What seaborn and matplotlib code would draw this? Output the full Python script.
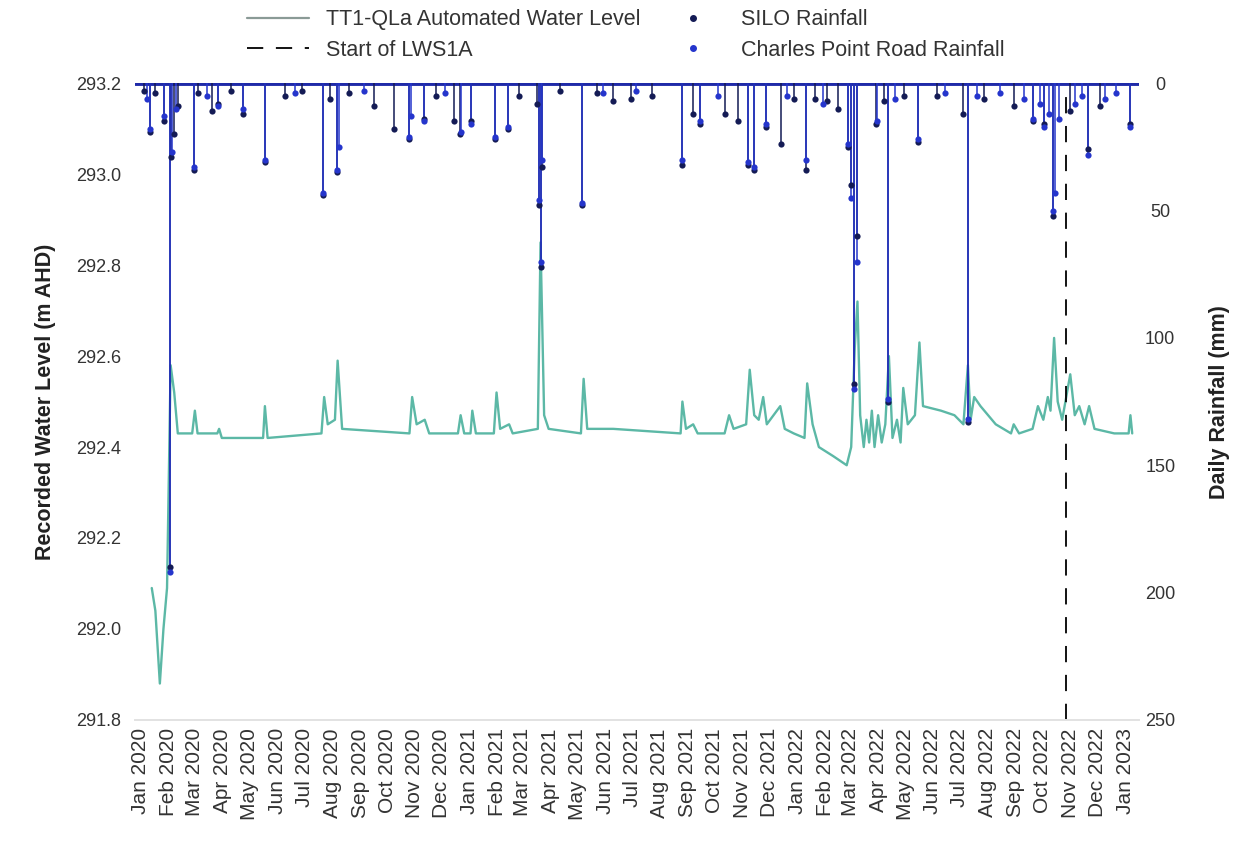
import matplotlib
matplotlib.use("Agg")
import matplotlib.pyplot as plt
import matplotlib.dates as mdates
from matplotlib.lines import Line2D
import seaborn as sns
import pandas as pd

sns.set_theme(style="white")
plt.rcParams['font.family'] = ['Liberation Sans', 'DejaVu Sans']

# ---------------- data ----------------
wl_dates = ["2020-01-13", "2020-01-17", "2020-01-22", "2020-01-26", "2020-01-30", "2020-02-03",
            "2020-02-07", "2020-02-11", "2020-02-27", "2020-03-01", "2020-03-04", "2020-03-26",
            "2020-03-28", "2020-03-31", "2020-05-16", "2020-05-18", "2020-05-21", "2020-07-20",
            "2020-07-23", "2020-07-27", "2020-08-04", "2020-08-07", "2020-08-12", "2020-10-26",
            "2020-10-29", "2020-11-03", "2020-11-12", "2020-11-17", "2020-12-19", "2020-12-22",
            "2020-12-26", "2021-01-02", "2021-01-04", "2021-01-08", "2021-01-28", "2021-01-31",
            "2021-02-04", "2021-02-14", "2021-02-18", "2021-03-18", "2021-03-21", "2021-03-25",
            "2021-03-30", "2021-05-05", "2021-05-08", "2021-05-12", "2021-06-10", "2021-08-24",
            "2021-08-26", "2021-08-30", "2021-09-07", "2021-09-12", "2021-10-12", "2021-10-17",
            "2021-10-22", "2021-11-05", "2021-11-09", "2021-11-14", "2021-11-19", "2021-11-24",
            "2021-11-28", "2021-12-13", "2021-12-18", "2021-12-28", "2022-01-09", "2022-01-12",
            "2022-01-18", "2022-01-25", "2022-02-10", "2022-02-25", "2022-03-02", "2022-03-06",
            "2022-03-09", "2022-03-12", "2022-03-16", "2022-03-19", "2022-03-22", "2022-03-25",
            "2022-03-28", "2022-04-01", "2022-04-05", "2022-04-09", "2022-04-13", "2022-04-17",
            "2022-04-22", "2022-04-26", "2022-04-29", "2022-05-04", "2022-05-12", "2022-05-17",
            "2022-05-21", "2022-06-10", "2022-06-25", "2022-07-05", "2022-07-10", "2022-07-13",
            "2022-07-17", "2022-07-24", "2022-08-10", "2022-08-27", "2022-08-30", "2022-09-05",
            "2022-09-20", "2022-09-26", "2022-10-02", "2022-10-07", "2022-10-10", "2022-10-14",
            "2022-10-18", "2022-10-23", "2022-11-01", "2022-11-06", "2022-11-11", "2022-11-17",
            "2022-11-22", "2022-11-28", "2022-12-20", "2023-01-05", "2023-01-07", "2023-01-09"]
wl_levels = [292.09, 292.04, 291.88, 292.00, 292.09, 292.58,
             292.52, 292.43, 292.43, 292.48, 292.43, 292.43,
             292.44, 292.42, 292.42, 292.49, 292.42, 292.43,
             292.51, 292.45, 292.46, 292.59, 292.44, 292.43,
             292.51, 292.45, 292.46, 292.43, 292.43, 292.47,
             292.43, 292.43, 292.48, 292.43, 292.43, 292.52,
             292.44, 292.45, 292.43, 292.44, 292.85, 292.47,
             292.44, 292.43, 292.55, 292.44, 292.44, 292.43,
             292.50, 292.44, 292.45, 292.43, 292.43, 292.47,
             292.44, 292.45, 292.57, 292.47, 292.46, 292.51,
             292.45, 292.49, 292.44, 292.43, 292.42, 292.54,
             292.45, 292.40, 292.38, 292.36, 292.40, 292.62,
             292.72, 292.47, 292.40, 292.46, 292.41, 292.48,
             292.40, 292.47, 292.41, 292.45, 292.60, 292.42,
             292.46, 292.41, 292.53, 292.45, 292.47, 292.63,
             292.49, 292.48, 292.47, 292.45, 292.58, 292.46,
             292.51, 292.49, 292.45, 292.43, 292.45, 292.43,
             292.44, 292.49, 292.46, 292.51, 292.48, 292.64,
             292.50, 292.46, 292.56, 292.47, 292.49, 292.45,
             292.49, 292.44, 292.43, 292.43, 292.47, 292.43]

silo_dates = ["2020-01-04", "2020-01-11", "2020-01-17", "2020-01-27", "2020-02-02", "2020-02-03",
              "2020-02-07", "2020-02-11", "2020-02-29", "2020-03-05", "2020-03-20", "2020-03-27",
              "2020-04-10", "2020-04-24", "2020-05-18", "2020-06-09", "2020-06-28", "2020-07-22",
              "2020-07-29", "2020-08-06", "2020-08-20", "2020-09-17", "2020-10-09", "2020-10-25",
              "2020-11-11", "2020-11-25", "2020-12-15", "2020-12-21", "2021-01-03", "2021-01-29",
              "2021-02-13", "2021-02-25", "2021-03-17", "2021-03-19", "2021-03-21", "2021-03-23",
              "2021-04-12", "2021-05-06", "2021-05-23", "2021-06-10", "2021-06-30", "2021-07-23",
              "2021-08-26", "2021-09-07", "2021-09-15", "2021-10-13", "2021-10-27", "2021-11-07",
              "2021-11-14", "2021-11-27", "2021-12-14", "2021-12-28", "2022-01-11", "2022-01-21",
              "2022-02-03", "2022-02-15", "2022-02-26", "2022-03-02", "2022-03-05", "2022-03-08",
              "2022-03-30", "2022-04-07", "2022-04-12", "2022-04-30", "2022-05-15", "2022-06-06",
              "2022-07-05", "2022-07-10", "2022-07-28", "2022-08-30", "2022-09-21", "2022-10-03",
              "2022-10-13", "2022-11-01", "2022-11-21", "2022-12-04", "2023-01-07"]
silo_mm = [3, 19, 4, 15, 190, 29,
           20, 9, 34, 4, 11, 8,
           3, 12, 31, 5, 3, 44,
           6, 35, 4, 9, 18, 22,
           14, 5, 15, 20, 15, 22,
           18, 5, 8, 48, 72, 33,
           3, 48, 4, 7, 6, 5,
           32, 12, 16, 12, 15, 32,
           34, 17, 24, 6, 34, 6,
           7, 10, 25, 40, 118, 60,
           16, 7, 125, 5, 23, 5,
           12, 133, 6, 9, 15, 16,
           52, 11, 26, 9, 16]

cpr_dates = ["2020-01-08", "2020-01-11", "2020-01-27", "2020-02-02", "2020-02-05", "2020-02-09",
             "2020-02-29", "2020-03-14", "2020-03-27", "2020-04-24", "2020-05-18", "2020-06-20",
             "2020-07-22", "2020-08-06", "2020-08-09", "2020-09-05", "2020-10-25", "2020-10-28",
             "2020-11-11", "2020-12-05", "2020-12-22", "2021-01-03", "2021-01-29", "2021-02-13",
             "2021-03-19", "2021-03-21", "2021-03-23", "2021-05-06", "2021-05-30", "2021-07-05",
             "2021-08-26", "2021-09-15", "2021-10-05", "2021-11-07", "2021-11-14", "2021-11-27",
             "2021-12-20", "2022-01-11", "2022-01-30", "2022-02-26", "2022-03-02", "2022-03-05",
             "2022-03-08", "2022-03-31", "2022-04-12", "2022-04-20", "2022-05-15", "2022-06-15",
             "2022-07-10", "2022-07-20", "2022-08-15", "2022-09-10", "2022-09-21", "2022-09-28",
             "2022-10-03", "2022-10-08", "2022-10-13", "2022-10-15", "2022-10-20", "2022-11-06",
             "2022-11-14", "2022-11-21", "2022-12-10", "2022-12-22", "2023-01-07"]
cpr_mm = [6, 18, 13, 192, 27, 10,
          33, 5, 9, 10, 30, 4,
          43, 34, 25, 3, 21, 13,
          15, 4, 19, 16, 21, 17,
          46, 70, 30, 47, 4, 3,
          30, 15, 5, 31, 33, 16,
          5, 30, 8, 24, 45, 120,
          70, 15, 124, 6, 22, 4,
          132, 5, 4, 6, 14, 8,
          17, 12, 50, 43, 14, 8,
          5, 28, 6, 4, 17]

lws1a_start = "2022-10-27"

# ---------------- figure ----------------
wl_color = "#5cb8a6"
silo_color = "#141b55"
cpr_color = "#2535cc"
text_color = "#333333"

fig = plt.figure(figsize=(12.59, 8.41), dpi=100)
ax = fig.add_axes([0.107, 0.144, 0.798, 0.757])

wl = pd.DataFrame({"date": pd.to_datetime(wl_dates), "level": wl_levels})
silo = pd.DataFrame({"date": pd.to_datetime(silo_dates), "mm": silo_mm})
cpr = pd.DataFrame({"date": pd.to_datetime(cpr_dates), "mm": cpr_mm})

sns.lineplot(data=wl, x="date", y="level", ax=ax, color=wl_color, lw=1.7)
ax.axvline(pd.Timestamp(lws1a_start), color="black", lw=1.3, dashes=(9, 7))

ax.set_ylim(291.8, 293.2)
ax.set_yticks([291.8, 292.0, 292.2, 292.4, 292.6, 292.8, 293.0, 293.2])
ax.set_yticklabels([f"{v:.1f}" for v in ax.get_yticks()])
ax.set_xlim(pd.Timestamp("2019-12-25"), pd.Timestamp("2023-01-17"))
ax.xaxis.set_major_locator(mdates.MonthLocator())
ax.xaxis.set_major_formatter(mdates.DateFormatter("%b %Y"))
ax.tick_params(axis="x", rotation=90, labelsize=15, length=0, pad=6, colors=text_color)
ax.tick_params(axis="y", labelsize=13, length=0, pad=10, colors=text_color)
ax.set_xlabel("")
ax.set_ylabel("Recorded Water Level (m AHD)", fontsize=15.5, fontweight="bold",
              labelpad=14, color="#222222")

ax2 = ax.twinx()
ax2.axhline(0, color="#1f2aa8", lw=3.5, zorder=1)
ax2.vlines(silo["date"], 0, silo["mm"], color=silo_color, lw=1.1, zorder=2)
ax2.vlines(cpr["date"], 0, cpr["mm"], color=cpr_color, lw=1.1, zorder=2)
sns.scatterplot(data=silo, x="date", y="mm", ax=ax2, color=silo_color, s=20, linewidth=0, zorder=3)
sns.scatterplot(data=cpr, x="date", y="mm", ax=ax2, color=cpr_color, s=20, linewidth=0, zorder=3)
ax2.set_ylim(250, 0)
ax2.set_yticks([0, 50, 100, 150, 200, 250])
ax2.tick_params(axis="y", labelsize=13, length=0, pad=15, colors=text_color)
for lbl in ax2.get_yticklabels():
    lbl.set_horizontalalignment("center")
ax2.set_ylabel("Daily Rainfall (mm)", fontsize=15.5, fontweight="bold", labelpad=24,
               color="#222222")
ax2.set_xlim(ax.get_xlim())

for a in (ax, ax2):
    for s in ("top", "left", "right"):
        a.spines[s].set_visible(False)
    a.spines["bottom"].set_color("#e2e2e2")
    a.grid(False)

handles = [
    Line2D([], [], color="#8a9a96", lw=1.6),
    Line2D([], [], color="black", lw=1.3, dashes=(9, 7)),
    Line2D([], [], color=silo_color, marker="o", ms=4, lw=0),
    Line2D([], [], color=cpr_color, marker="o", ms=4, lw=0),
]
labels = ["TT1-QLa Automated Water Level", "Start of LWS1A", "SILO Rainfall",
          "Charles Point Road Rainfall"]
fig.legend(handles, labels, ncol=2, loc="upper center", bbox_to_anchor=(0.497, 1.012),
           frameon=False, fontsize=15.5, handlelength=2.85, columnspacing=1.0,
           labelspacing=0.45, labelcolor=text_color)

fig.savefig("out.png", dpi=100)
